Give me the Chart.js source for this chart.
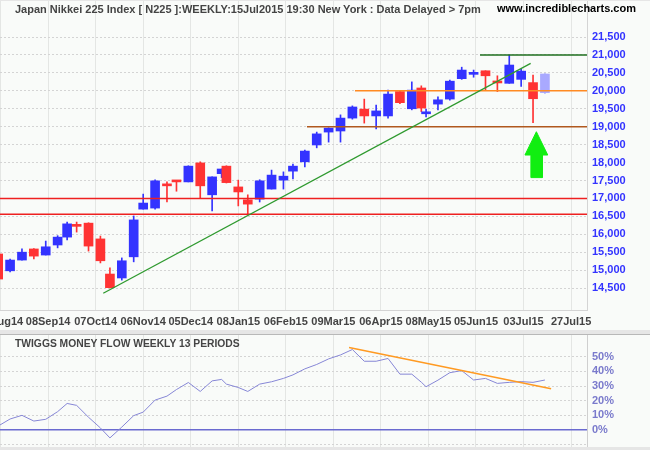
<!DOCTYPE html>
<html lang="en">
<head>
<meta charset="UTF-8">
<title>Nikkei 225 Weekly</title>
<script src="https://cdn.jsdelivr.net/npm/chart.js"></script>
<style>
  body { margin: 0; background: #e6e6e6; }
  #wrap { position: relative; width: 650px; height: 450px; overflow: hidden; font-family: "Liberation Sans", Arial, sans-serif; }
  canvas { position: absolute; left: 0; background: #f9fbf9; }
  #priceCanvas { top: 1px; }
  #tmfCanvas { top: 335px; }
  .lbl { position: absolute; font-weight: bold; white-space: pre; line-height: 1; }
  .sep { position: absolute; left: 0; width: 650px; height: 1px; background: #b8b8b8; }
</style>
</head>
<body>
<div id="wrap">
  <canvas id="priceCanvas" width="650" height="329"></canvas>
  <div class="sep" style="top:334px"></div>
  <canvas id="tmfCanvas" width="650" height="112"></canvas>
  <div class="lbl" style="left:15px;top:4px;font-size:11px;color:#444">Japan Nikkei 225 Index [ N225 ]:WEEKLY:15Jul2015 19:30 New York : Data Delayed &gt; 7pm</div>
  <div class="lbl" style="left:497px;top:3px;font-size:11px;color:#000">www.incrediblecharts.com</div>
  <div class="lbl" style="left:15px;top:339px;font-size:10.3px;color:#444">TWIGGS MONEY FLOW WEEKLY 13 PERIODS</div>
</div>

<script>
    // trading-day index of the last session of each week (Aug 8 2014 = 0)
    const weekEnd = [0, 5, 10, 15, 20, 25, 29, 33, 38, 43, 47, 52, 57, 61, 66, 71, 75, 80, 85, 90,
        94, 96, 101, 105, 110, 115, 120, 124, 129, 134, 139, 144, 149, 154, 159, 164, 169, 174, 178, 180,
        185, 190, 195, 200, 205, 210, 215, 220, 225, 230];

    const open = [15450, 14980, 15280, 15590, 15420, 15700, 15920, 16260, 16310, 15870,
        14890, 14780, 15370, 16700, 16730, 17370, 17490, 17460, 17990, 17100,
        17690, 17900, 17320, 16960, 16980, 17260, 17510, 17760, 18020, 18490,
        18850, 18880, 19240, 19490, 19300, 19300, 19980, 19500, 20080, 19360,
        19630, 19770, 20340, 20460, 20560, 20240, 20210, 20320, 20230, 19950];
    const high = [15460, 15310, 15590, 15600, 15810, 15960, 16340, 16340, 16320, 15950,
        15060, 15340, 16510, 17120, 17520, 17460, 17490, 17910, 18020, 17600,
        17820, 17910, 17510, 17100, 17520, 17790, 17740, 17960, 18350, 18850,
        18970, 19330, 19580, 19770, 19600, 20020, 19990, 20250, 20140, 19490,
        19830, 20300, 20660, 20580, 20560, 20420, 21000, 20610, 20440, 20480];
    const low = [14720, 14950, 15280, 15310, 15420, 15620, 15840, 16060, 15530, 15200,
        14500, 14720, 15230, 16700, 16700, 16900, 17200, 17460, 17010, 16650,
        17580, 17430, 16790, 16570, 16900, 17260, 17260, 17540, 17880, 18410,
        18570, 18570, 19210, 19100, 18940, 19240, 19640, 19470, 19420, 19270,
        19470, 19740, 20320, 20380, 20020, 19980, 20210, 20120, 19110, 19930];
    const close = [14750, 15280, 15500, 15390, 15650, 15920, 16290, 16220, 15670, 15260,
        14510, 15260, 16400, 16870, 17490, 17350, 17460, 17900, 17350, 17600,
        17820, 17440, 17180, 16840, 17490, 17650, 17620, 17900, 18320, 18800,
        18960, 19240, 19550, 19300, 19440, 19910, 19670, 20020, 19520, 19380,
        19750, 20270, 20580, 20480, 20420, 20220, 20720, 20550, 19780, 20470];

    // Twiggs Money Flow (13 weeks), percent
    const tmf = [2.7, 7.5, 10, 6.1, 7.3, 12.5, 18.1, 16.8, 8.7, 1.4,
        -5.4, 2, 9.8, 12.2, 20.4, 23.1, 27.6, 32.4, 26.3, 33.5,
        34.5, 31.3, 29, 26.3, 31.3, 32.9, 35.2, 37.6, 41.7, 44.7,
        48.5, 51.2, 54.9, 46.9, 46.9, 48.8, 38.1, 38.1, 32.6, 29.5,
        34, 39.1, 40.5, 34.1, 35.2, 31.8, 32.5, 33, 32.5, 34.1];

    const tickDays = [1, 21, 41, 61, 81, 101, 121, 141, 161, 181, 201, 221, 241];
    const tickLabels = ["11Aug14", "08Sep14", "07Oct14", "06Nov14", "05Dec14", "08Jan15", "06Feb15",
        "09Mar15", "06Apr15", "08May15", "05Jun15", "03Jul15", "27Jul15"];
    const priceTicks = [14500, 15000, 15500, 16000, 16500, 17000, 17500, 18000, 18500, 19000, 19500, 20000, 20500, 21000, 21500];
    const tmfTicks = [-10, 0, 10, 20, 30, 40, 50];

    const xMin = 0.76, xMax = 247.7;

    // drawn lines, in (trading day, price) units
    const greenTrend = [{x: 44.2, y: 14353}, {x: 224, y: 20768}];
    const resist21000 = [{x: 202.7, y: 21000}, {x: xMax, y: 21000}];
    const level20000 = [{x: 150.1, y: 20000}, {x: xMax, y: 20000}];
    const level19000 = [{x: 129.9, y: 19000}, {x: xMax, y: 19000}];
    const level17000 = [{x: xMin, y: 17000}, {x: xMax, y: 17000}];
    const level16560 = [{x: xMin, y: 16560}, {x: xMax, y: 16560}];
    const arrowUp = [{x: 226.4, y: 18860}, {x: 231.2, y: 18210}, {x: 228.9, y: 18210}, {x: 228.9, y: 17580},
        {x: 224.1, y: 17580}, {x: 224.1, y: 18210}, {x: 221.6, y: 18210}, {x: 226.4, y: 18860}];
    const tmfTrend = [{x: 147.6, y: 56.2}, {x: 232.6, y: 28.2}];

    const lastIdx = weekEnd.length - 1;
    function candleColor(i) {
        if (i === lastIdx) return "#a9a9ff";
        return close[i] >= open[i] ? "#3333ff" : "#ff3333";
    }

    const bodies = weekEnd.map((d, i) => ({x: d, y: [open[i], close[i]]}));
    const wicks = weekEnd.map((d, i) => ({x: d, y: [low[i], high[i]]}));

    function line(data, color, width) {
        return {type: "line", data: data, borderColor: color, borderWidth: width,
            pointRadius: 0, fill: false, tension: 0};
    }

    // no label padding around the plot, the panels fill the frame
    function noPad(s) {
        s.paddingTop = 0;
        s.paddingBottom = 0;
        s.paddingLeft = 0;
        s.paddingRight = 0;
    }

    const dateLabels = {
        id: "dateLabels",
        afterDraw(chart) {
            const {ctx, chartArea} = chart;
            const x = chart.scales.x;
            ctx.save();
            ctx.font = 'bold 11px "Liberation Sans", Arial, sans-serif';
            ctx.fillStyle = "#444";
            ctx.textAlign = "center";
            ctx.textBaseline = "middle";
            tickDays.forEach((d, i) => ctx.fillText(tickLabels[i], x.getPixelForValue(d), chartArea.bottom + 12));
            ctx.restore();
        }
    };

    const axisFont = {family: "Liberation Sans", size: 11, weight: "bold"};

    new Chart(document.getElementById("priceCanvas"), {
        type: "bar",
        data: {
            datasets: [
                line(greenTrend, "#2f9a2f", 1.3),
                line(resist21000, "#1f6f1f", 1.5),
                line(level20000, "#ff8a22", 1.5),
                line(level19000, "#b0581e", 1.5),
                line(level17000, "#ee2020", 1.5),
                line(level16560, "#ee2020", 1.5),
                {type: "line", data: arrowUp, borderColor: "#11ee11", backgroundColor: "#11ee11",
                    borderWidth: 1, pointRadius: 0, fill: "shape", tension: 0},
                {data: bodies, backgroundColor: ctx => candleColor(ctx.dataIndex),
                    barThickness: 9, minBarLength: 2, grouped: false},
                {data: wicks, backgroundColor: ctx => candleColor(ctx.dataIndex),
                    barThickness: 1, grouped: false}
            ]
        },
        options: {
            responsive: false,
            animation: false,
            devicePixelRatio: 1,
            layout: {padding: 0},
            plugins: {legend: {display: false}, tooltip: {enabled: false}},
            scales: {
                x: {
                    type: "linear", min: xMin, max: xMax, offset: false,
                    afterBuildTicks: s => { s.ticks = tickDays.map(v => ({value: v})); },
                    afterFit: s => { s.height = 20; noPad(s); },
                    ticks: {display: false},
                    grid: {color: "#e4e6e4", drawTicks: false, offset: false},
                    border: {color: "#d4d4d4"}
                },
                y: {
                    position: "right", min: 13887, max: 22506,
                    afterBuildTicks: s => { s.ticks = priceTicks.map(v => ({value: v})); },
                    afterFit: s => { s.width = 63; noPad(s); },
                    ticks: {color: "#3333ff", font: axisFont, padding: 5, autoSkip: false,
                        callback: v => v.toLocaleString("en-US")},
                    grid: {color: "#d4d4d4", drawTicks: false},
                    border: {color: "#d4d4d4", dash: [2, 2]}
                }
            }
        },
        plugins: [dateLabels]
    });

    new Chart(document.getElementById("tmfCanvas"), {
        type: "line",
        data: {
            datasets: [
                line(tmfTrend, "#ff9a22", 1.5),
                line(weekEnd.map((d, i) => ({x: d, y: tmf[i]})), "#8686d6", 1)
            ]
        },
        options: {
            responsive: false,
            animation: false,
            devicePixelRatio: 1,
            layout: {padding: 0},
            plugins: {legend: {display: false}, tooltip: {enabled: false}},
            scales: {
                x: {
                    type: "linear", min: xMin, max: xMax,
                    afterBuildTicks: s => { s.ticks = tickDays.map(v => ({value: v})); },
                    afterFit: s => { s.height = 0; noPad(s); },
                    ticks: {display: false},
                    grid: {color: "#e4e6e4", drawTicks: false},
                    border: {display: false}
                },
                y: {
                    position: "right", min: -11.6, max: 64.8,
                    afterBuildTicks: s => { s.ticks = tmfTicks.map(v => ({value: v})); },
                    afterFit: s => { s.width = 63; noPad(s); },
                    ticks: {color: "#7a7acc", font: axisFont, padding: 5, autoSkip: false,
                        callback: v => v < 0 ? "" : v + "%"},
                    grid: {
                        color: ctx => ctx.tick && ctx.tick.value === 0 ? "#6a6ad0" : "#d4d4d4",
                        lineWidth: ctx => ctx.tick && ctx.tick.value === 0 ? 1.5 : 1,
                        drawTicks: false
                    },
                    border: {color: "#cfcfcf", dash: ctx => ctx.tick && ctx.tick.value === 0 ? [] : [2, 2]}
                }
            }
        }
    });
</script>
</body>
</html>
